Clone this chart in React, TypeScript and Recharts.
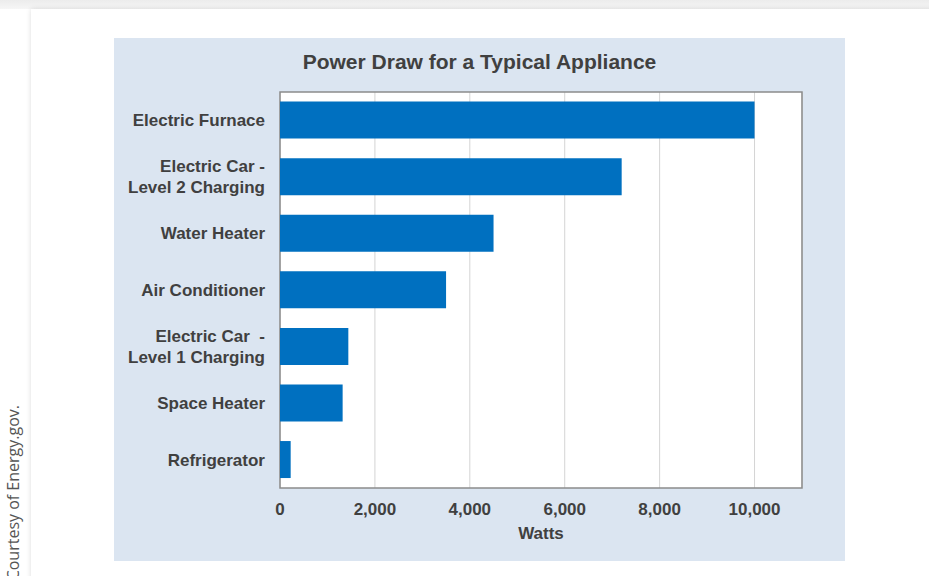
import React from 'react';
import {
  BarChart,
  Bar,
  XAxis,
  YAxis,
  CartesianGrid,
  ReferenceArea,
} from 'recharts';

// appliance names, top to bottom; "\n" splits a label over two lines
const appliances = [
  'Electric Furnace',
  'Electric Car -\nLevel 2 Charging',
  'Water Heater',
  'Air Conditioner',
  'Electric Car  -\nLevel 1 Charging',
  'Space Heater',
  'Refrigerator',
];
const watts = [10000, 7200, 4500, 3500, 1440, 1320, 225];
const wattTicks = [0, 2000, 4000, 6000, 8000, 10000];

const chartData = appliances.map((name, i) => ({ name, watts: watts[i] }));

const TEXT = '#404040';
const FONT = '"Liberation Sans", Arial, sans-serif';

const ApplianceTick = (props: any) => {
  const { x, y, payload } = props;
  const lines: string[] = String(payload.value).split('\n');
  const lineH = 21;
  const startY = y - ((lines.length - 1) * lineH) / 2;
  return (
    <text
      x={x}
      y={startY}
      textAnchor="end"
      dominantBaseline="central"
      fill={TEXT}
      fontFamily={FONT}
      fontWeight="bold"
      fontSize={17}
    >
      {lines.map((l, i) => (
        <tspan key={i} x={x} y={startY + i * lineH} style={{ whiteSpace: 'pre' }}>
          {l}
        </tspan>
      ))}
    </text>
  );
};

const App: React.FC = () => {
  return (
    <div
      style={{
        position: 'absolute',
        left: 0,
        top: 0,
        width: 929,
        height: 576,
        overflow: 'hidden',
        background: 'linear-gradient(#ececec, #f6f6f6 9px, #ffffff 9px)',
      }}
    >
      {/* card */}
      <div
        style={{
          position: 'absolute',
          left: 31,
          top: 9,
          width: 920,
          height: 600,
          background: '#fff',
          boxShadow: '0 0 5px rgba(0,0,0,0.14)',
        }}
      />
      {/* credit line */}
      <div
        style={{
          position: 'absolute',
          left: 2,
          top: 405,
          writingMode: 'vertical-rl',
          transform: 'rotate(180deg)',
          fontFamily: '"Open Sans", sans-serif',
          fontSize: 16,
          color: '#555',
          whiteSpace: 'nowrap',
        }}
      >
        Courtesy of Energy.gov.
      </div>
      {/* chart panel */}
      <div
        style={{
          position: 'absolute',
          left: 114,
          top: 38,
          width: 731,
          height: 523,
          background: '#dbe5f1',
        }}
      >
        <div
          style={{
            position: 'absolute',
            left: 0,
            right: 0,
            top: 12,
            textAlign: 'center',
            fontFamily: FONT,
            fontWeight: 'bold',
            fontSize: 21,
            color: TEXT,
          }}
        >
          Power Draw for a Typical Appliance
        </div>
        <BarChart
          width={731}
          height={523}
          data={chartData}
          layout="vertical"
          margin={{ top: 54, right: 43, bottom: 30, left: 0 }}
          barCategoryGap="17%"
        >
          <CartesianGrid
            horizontal={false}
            stroke="#d4d4d4"
            fill="#ffffff"
          />
          <XAxis
            type="number"
            dataKey="watts"
            domain={[0, 11000]}
            ticks={wattTicks}
            tickFormatter={(v: number) => v.toLocaleString('en-US')}
            axisLine={false}
            tickLine={false}
            tickMargin={9}
            height={43}
            tick={{ fill: TEXT, fontFamily: FONT, fontWeight: 'bold', fontSize: 17 }}
            label={{
              value: 'Watts',
              position: 'insideBottom',
              offset: -8,
              fill: TEXT,
              fontFamily: FONT,
              fontWeight: 'bold',
              fontSize: 17,
            }}
          />
          <YAxis
            type="category"
            dataKey="name"
            width={166}
            axisLine={false}
            tickLine={false}
            tickSize={0}
            tickMargin={15}
            interval={0}
            tick={<ApplianceTick />}
          />
          <Bar dataKey="watts" fill="#0070c0" isAnimationActive={false} />
          <ReferenceArea
            x1={0}
            x2={11000}
            fill="none"
            stroke="#8c8c8c"
            strokeWidth={1.5}
            ifOverflow="visible"
          />
        </BarChart>
      </div>
    </div>
  );
};

export default App;
